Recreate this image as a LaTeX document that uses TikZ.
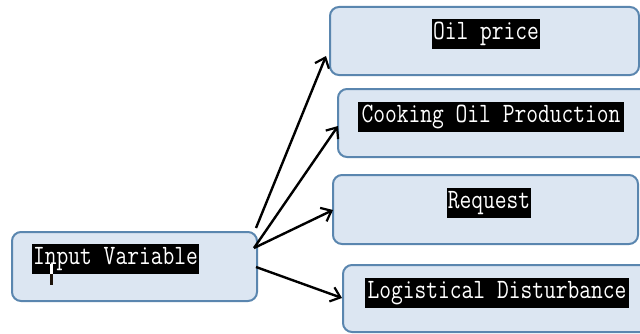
\documentclass[tikz,border=0pt]{standalone}
\usepackage{fontspec}
\usetikzlibrary{arrows.meta}
\definecolor{boxfill}{HTML}{DCE6F2}
\definecolor{boxline}{HTML}{5A86AF}
\tikzset{
  box/.style={draw=boxline, fill=boxfill, line width=2pt, rounded corners=9pt},
  hl/.style={fill=black, text=white, inner sep=0pt, minimum height=30pt, font=\ttfamily\fontsize{28}{28}\selectfont},
  arr/.style={draw=black, line width=2.4pt, -{Straight Barb[length=9pt,width=15pt,line width=2.2pt]}}
}
\newcommand{\sq}[1]{\scalebox{0.816}[1]{#1}}
\begin{document}
\begin{tikzpicture}[x=1pt,y=1pt]
\useasboundingbox (0,0) rectangle (640,333);
\clip (0,0) rectangle (640,333);
\fill[white] (0,0) rectangle (640,333);
% boxes (y = 333 - pixel y)
\draw[box] (12,32) rectangle (257,101);
\draw[box] (330,258) rectangle (639,326);
\draw[box] (338,176) rectangle (652,244);
\draw[box] (333,89) rectangle (638,158);
\draw[box] (343,1) rectangle (652,68);
% labels
\node[hl, minimum width=167pt] (iv) at (115.5,74) {\sq{Input Variable}};
\node[hl, minimum width=108pt] (op) at (486,299) {\sq{Oil price}};
\node[hl, minimum width=266pt] (cop) at (491,216) {\sq{Cooking Oil Production}};
\node[hl, minimum width=84pt] (rq) at (489,130) {\sq{Request}};
\node[hl, minimum width=264pt] (ld) at (497,40) {\sq{Logistical Disturbance}};
% cursor mark
\fill[white] (50,59) rectangle (53,69);
\fill[black!85!brown] (50,48) rectangle (53,59);
% arrow endpoints
\coordinate (s1) at (256,105);
\coordinate (s2) at (254,85);
\coordinate (s4) at (256,66);
\coordinate (e1) at (326,277);
\coordinate (e2) at (338,207);
\coordinate (e3) at (333,123);
\coordinate (e4) at (342,35);
\draw[arr] (s1) -- (e1);
\draw[arr] (s2) -- (e2);
\draw[arr] (s2) -- (e3);
\draw[arr] (s4) -- (e4);
\end{tikzpicture}
\end{document}
